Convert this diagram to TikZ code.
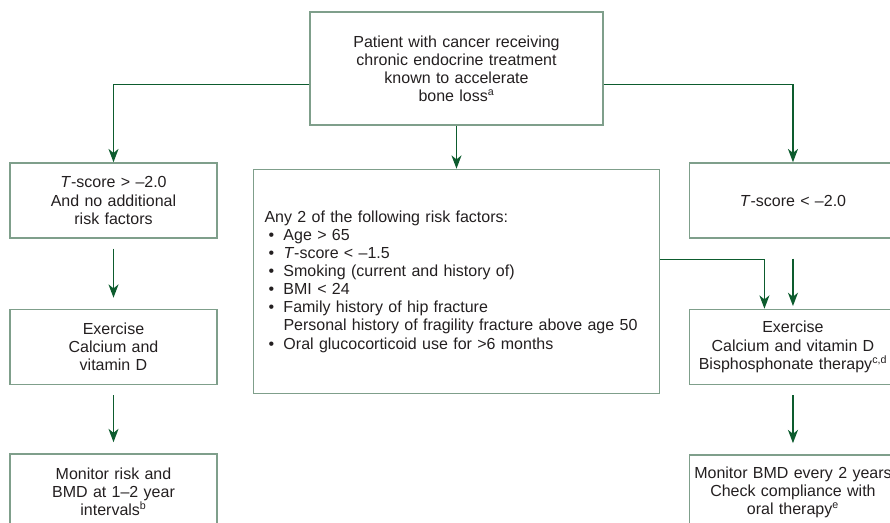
\documentclass[tikz,border=0pt]{standalone}
\usepackage{fontspec}
\setmainfont{Liberation Sans}
\usetikzlibrary{positioning, arrows.meta}
\definecolor{boxgreen}{HTML}{7F9F8B}
\definecolor{arrowgreen}{HTML}{0D5C2E}
\definecolor{textgrey}{HTML}{231F20}
\tikzstyle{tblock} = [rectangle, draw=boxgreen, line width=1.1pt,
text width=210pt, align=center, minimum width=219.75pt, minimum height=84.75pt]
\tikzstyle{sblock} = [rectangle, draw=boxgreen, line width=1.1pt, inner xsep=0pt,
text width=155pt, align=center, minimum width=155.25pt, minimum height=56.25pt]
\tikzstyle{lblock} = [rectangle, draw=boxgreen, line width=1.1pt,
text width=288pt, align=left, minimum width=304.5pt, minimum height=168pt]
\tikzstyle{arrow} = [line width=1.2pt, draw=arrowgreen, -{Stealth[length=10pt, width=7.5pt, inset=3pt]}]
\newcommand{\bul}{\hspace*{3pt}\makebox[11.25pt][l]{\textbullet}}

\begin{document}
\begin{tikzpicture}[node distance=52.5pt, x=0.75pt, y=-0.75pt]
                \tikzstyle{every node}=[font=\fontsize{12}{13.6}\selectfont, text=textgrey]
                \useasboundingbox (0,0) rectangle (890,523);
                \clip (0,0) rectangle (890,523);
                \node (1) [tblock] at (456.5,68.5) {Patient with cancer receiving\\chronic endocrine treatment\\known to accelerate\\bone loss\textsuperscript{a}};
                \node (2) [sblock] at (113.5,200.5) {\textit{T}-score > –2.0\\And no additional\\risk factors};
                \node (3) [lblock, below=32.25pt of 1] {Any 2 of the following risk factors:\\
                \bul Age > 65\\
                \bul \textit{T}-score < –1.5\\
                \bul Smoking (current and history of)\\
                \bul BMI < 24\\
                \bul Family history of hip fracture\\
                \hspace*{14.25pt}Personal history of fragility fracture above age 50\\
                \bul Oral glucocorticoid use for >6 months};
                \node (4) [sblock, right=353.25pt of 2] {\textit{T}-score < –2.0};
                \node (5) [sblock, below=of 2] {Exercise\\Calcium and\\vitamin D};
                \node (6) [sblock, below=of 4] {Exercise\\Calcium and vitamin D\\Bisphosphonate therapy\textsuperscript{c,d}};
                \node (7) [sblock, below=51pt of 5] {Monitor risk and\\BMD at 1–2 year\\intervals\textsuperscript{b}};
                \node (8) [sblock, below=51.75pt of 6] {Monitor BMD every 2 years\\Check compliance with\\oral therapy\textsuperscript{e}};
                \draw [arrow] (1) -- (3);
                \draw [arrow] ([shift={(0pt,-12pt)}]1.west) -| (2);
                \draw [arrow] ([shift={(0pt,-12pt)}]1.east) -| (4);
                \draw [arrow, shorten <=7.5pt, shorten >=8.25pt] (2) -- (5);
                \draw [arrow, shorten <=7.5pt, shorten >=8.25pt] (5) -- (7);
                \draw [arrow, shorten <=15pt, shorten >=2pt] (4) -- (6);
                \draw [arrow] ([shift={(0pt,16.5pt)}]3.east) -| ([shift={(-21.4pt,0pt)}]6.north);
                \draw [arrow, shorten <=7.5pt, shorten >=8.25pt] (6) -- (8);
\end{tikzpicture}
\end{document}
